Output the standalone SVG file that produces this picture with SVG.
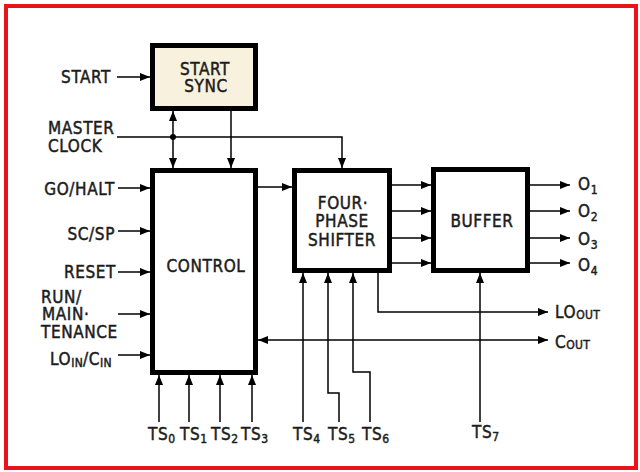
<svg xmlns="http://www.w3.org/2000/svg" width="640" height="472" viewBox="0 0 640 472">
<defs>
<style>
.t{font-family:"DejaVu Sans Condensed","DejaVu Sans","Liberation Sans",sans-serif;font-stretch:condensed;font-weight:normal;font-size:17px;fill:#1c1c1c;stroke:#1c1c1c;stroke-width:0.45;letter-spacing:0.6px}
.s{font-size:12px;letter-spacing:0.3px}
.box{fill:#fff;stroke:#000;stroke-width:5}
.ln{fill:none;stroke:#000;stroke-width:1.5}
.a{marker-end:url(#ah)}
.b{marker-start:url(#ah);marker-end:url(#ah)}
</style>
<marker id="ah" markerUnits="userSpaceOnUse" markerWidth="11" markerHeight="8" refX="10" refY="4" orient="auto-start-reverse">
<path d="M0,0 L10,4 L0,8 z" fill="#000"/>
</marker>
</defs>
<rect x="0" y="0" width="640" height="472" fill="#fff"/>
<rect x="6" y="6" width="630" height="462" fill="none" stroke="#e8141c" stroke-width="4"/>

<g id="start-sync">
<rect class="box" x="152.5" y="45.5" width="103" height="63" style="fill:#f8f1de"/>
<text class="t" x="205" y="75" text-anchor="middle">START</text>
<text class="t" x="206" y="92" text-anchor="middle">SYNC</text>
</g>
<g id="control">
<rect class="box" x="152.5" y="170.5" width="103" height="202"/>
<text class="t" x="206" y="272" text-anchor="middle">CONTROL</text>
</g>
<g id="four-phase-shifter">
<rect class="box" x="294.5" y="170.5" width="95" height="100"/>
<text class="t" x="343" y="209" text-anchor="middle">FOUR·</text>
<text class="t" x="342" y="227" text-anchor="middle">PHASE</text>
<text class="t" x="342" y="246" text-anchor="middle">SHIFTER</text>
</g>
<g id="buffer">
<rect class="box" x="433.5" y="169.5" width="94" height="101"/>
<text class="t" x="482" y="227" text-anchor="middle">BUFFER</text>
</g>

<g id="connectors">
<line class="ln a" x1="117" y1="77" x2="150" y2="77"/>
<path class="ln a" d="M117,137 H342 V168"/>
<circle cx="173" cy="137" r="3" fill="#000"/>
<line class="ln b" x1="173" y1="111" x2="173" y2="168"/>
<line class="ln a" x1="231" y1="111" x2="231" y2="168"/>
<line class="ln a" x1="118" y1="188" x2="150" y2="188"/>
<line class="ln a" x1="118" y1="231" x2="150" y2="231"/>
<line class="ln a" x1="118" y1="272" x2="150" y2="272"/>
<line class="ln a" x1="118" y1="314" x2="150" y2="314"/>
<line class="ln a" x1="118" y1="355" x2="150" y2="355"/>
<line class="ln a" x1="258" y1="187" x2="292" y2="187"/>
<line class="ln a" x1="392" y1="185" x2="431" y2="185"/>
<line class="ln a" x1="392" y1="211" x2="431" y2="211"/>
<line class="ln a" x1="392" y1="238" x2="431" y2="238"/>
<line class="ln a" x1="392" y1="263" x2="431" y2="263"/>
<line class="ln a" x1="530" y1="185" x2="570" y2="185"/>
<line class="ln a" x1="530" y1="211" x2="570" y2="211"/>
<line class="ln a" x1="530" y1="238" x2="570" y2="238"/>
<line class="ln a" x1="530" y1="263" x2="570" y2="263"/>
<path class="ln a" d="M378,273 V312 H548"/>
<line class="ln b" x1="258" y1="340" x2="548" y2="340"/>
<line class="ln a" x1="159" y1="422" x2="159" y2="375"/>
<line class="ln a" x1="189" y1="422" x2="189" y2="375"/>
<line class="ln a" x1="220" y1="422" x2="220" y2="375"/>
<line class="ln a" x1="252" y1="422" x2="252" y2="375"/>
<line class="ln a" x1="303" y1="422" x2="303" y2="273"/>
<path class="ln a" d="M339,422 V393 H328 V273"/>
<path class="ln a" d="M370,422 V372 H353 V273"/>
<line class="ln a" x1="480" y1="422" x2="480" y2="273"/>
</g>

<g id="labels">
<text class="t" x="111" y="83" text-anchor="end">START</text>
<text class="t" x="48" y="134">MASTER</text>
<text class="t" x="48" y="152">CLOCK</text>
<text class="t" x="115" y="195" text-anchor="end">GO/HALT</text>
<text class="t" x="115" y="240" text-anchor="end">SC/SP</text>
<text class="t" x="116" y="278" text-anchor="end">RESET</text>
<text class="t" x="41" y="303">RUN/</text>
<text class="t" x="42" y="320">MAIN·</text>
<text class="t" x="41" y="338">TENANCE</text>
<text class="t" x="50" y="365">LO<tspan class="s" dy="2">IN</tspan><tspan dy="-2">/C</tspan><tspan class="s" dy="2">IN</tspan></text>
<text class="t" x="578" y="190">O<tspan class="s" dy="4">1</tspan></text>
<text class="t" x="578" y="217">O<tspan class="s" dy="4">2</tspan></text>
<text class="t" x="578" y="245">O<tspan class="s" dy="4">3</tspan></text>
<text class="t" x="578" y="271">O<tspan class="s" dy="4">4</tspan></text>
<text class="t" x="555" y="318">LO<tspan class="s" dy="1">OUT</tspan></text>
<text class="t" x="555" y="348">C<tspan class="s" dy="1">OUT</tspan></text>
<text class="t" x="148" y="440">TS<tspan class="s" dy="3">0</tspan></text>
<text class="t" x="180" y="440">TS<tspan class="s" dy="3">1</tspan></text>
<text class="t" x="211" y="440">TS<tspan class="s" dy="3">2</tspan></text>
<text class="t" x="241" y="440">TS<tspan class="s" dy="3">3</tspan></text>
<text class="t" x="293" y="440">TS<tspan class="s" dy="3">4</tspan></text>
<text class="t" x="328" y="440">TS<tspan class="s" dy="3">5</tspan></text>
<text class="t" x="362" y="440">TS<tspan class="s" dy="3">6</tspan></text>
<text class="t" x="472" y="438">TS<tspan class="s" dy="3">7</tspan></text>
</g>
</svg>
